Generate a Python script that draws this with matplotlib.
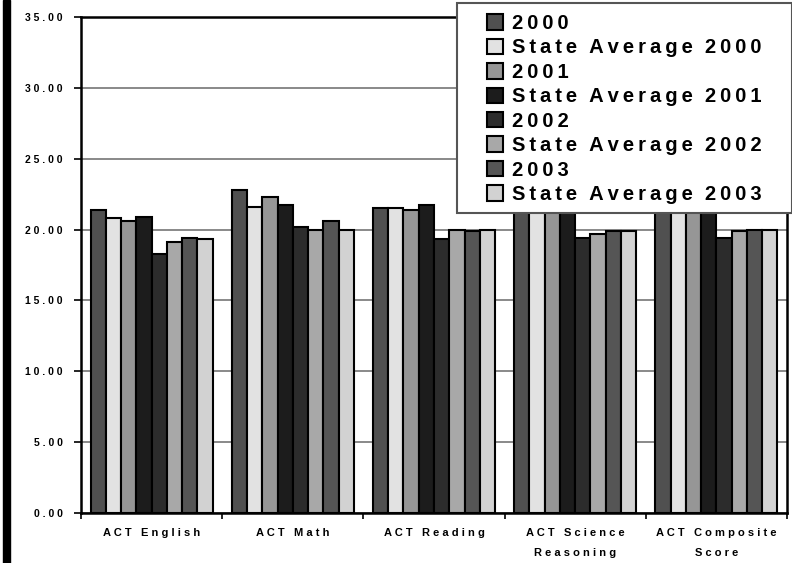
#!/usr/bin/env python3
"""ACT scores vs state average, grouped bars."""

import matplotlib

matplotlib.use("Agg")
import matplotlib.pyplot as plt
import numpy as np
from matplotlib.patches import Rectangle

categories = ["ACT English", "ACT Math", "ACT Reading", "ACT Science\nReasoning", "ACT Composite\nScore"]
series_names = [
    "2000", "State Average 2000",
    "2001", "State Average 2001",
    "2002", "State Average 2002",
    "2003", "State Average 2003",
]
# one list per series, values in category order
s2000 = [21.4, 22.8, 21.5, 21.6, 21.8]
sa2000 = [20.8, 21.6, 21.5, 21.3, 21.6]
s2001 = [20.6, 22.3, 21.4, 21.5, 21.7]
sa2001 = [20.9, 21.7, 21.7, 21.3, 21.7]
s2002 = [18.3, 20.2, 19.3, 19.4, 19.4]
sa2002 = [19.1, 20.0, 20.0, 19.7, 19.9]
s2003 = [19.4, 20.6, 19.9, 19.9, 20.0]
sa2003 = [19.3, 20.0, 20.0, 19.9, 20.0]
series_values = [s2000, sa2000, s2001, sa2001, s2002, sa2002, s2003, sa2003]
y_ticks = [0, 5, 10, 15, 20, 25, 30, 35]

colors = ["#505050", "#e2e2e2", "#969696", "#1c1c1c", "#2c2c2c", "#a8a8a8", "#555555", "#d2d2d2"]

FONT = ["Liberation Sans", "DejaVu Sans"]
plt.rcParams["font.family"] = FONT
plt.rcParams["font.weight"] = "bold"


def spaced(text, sep=" ", wordsep=3):
    lines = []
    for line in text.split("\n"):
        words = [sep.join(w) for w in line.split(" ")]
        lines.append((sep * wordsep).join(words))
    return "\n".join(lines)


fig = plt.figure(figsize=(7.92, 5.63), dpi=100)
ax = fig.add_axes([81 / 792, 1 - 513 / 563, 706 / 792, 496 / 563])

n = len(series_values)
x = np.arange(len(categories))
total = 0.865
w = total / n
handles = []
for i, (name, vals) in enumerate(zip(series_names, series_values)):
    b = ax.bar(x - total / 2 + w * (i + 0.5), vals, width=w, color=colors[i],
               edgecolor="black", linewidth=1.5, label=name, zorder=3)
    handles.append(b)

ax.set_xlim(-0.5, len(categories) - 0.5)
ax.set_ylim(0, 35)
ax.set_yticks(y_ticks)
ax.set_yticklabels([spaced(f"{v:.2f}") for v in y_ticks], fontsize=7.5, fontweight="bold")
ax.set_xticks(np.arange(len(categories) + 1) - 0.5)
ax.set_xticklabels([])
ax.set_xticks(x, minor=True)
ax.set_xticklabels([spaced(c) for c in categories], minor=True, fontsize=8,
                   fontweight="bold", linespacing=2.2)
ax.tick_params(axis="x", which="minor", length=0, pad=11)
ax.tick_params(axis="x", which="major", length=4, width=1.2, direction="out")
ax.tick_params(axis="y", length=5, width=1.2, direction="out", pad=8)

ax.grid(axis="y", color="#6a6a6a", linewidth=1.1, zorder=0)
for side in ["left", "bottom", "top", "right"]:
    ax.spines[side].set_linewidth(1.8)
    ax.spines[side].set_color("black")

# legend box drawn as its own rectangle so the padding matches
fig.patches.append(Rectangle((457 / 792, 1 - 213 / 563), 335 / 792, 210 / 563,
                             transform=fig.transFigure, facecolor="white",
                             edgecolor="#555555", linewidth=1.5, zorder=9))
leg = fig.legend(handles, [spaced(s, sep="\u2009") for s in series_names],
                 loc="upper left", bbox_to_anchor=(487 / 792, 1 - 14 / 563),
                 bbox_transform=fig.transFigure, frameon=False,
                 borderpad=0, borderaxespad=0, labelspacing=0.27,
                 handlelength=0.8, handleheight=0.8, handletextpad=0.45,
                 prop={"family": FONT, "weight": "bold", "size": 14.5})
leg.set_zorder(10)

# black strip down the left edge of the picture
fig.patches.append(Rectangle((3 / 792, 0), 7 / 792, 1, transform=fig.transFigure,
                             color="black", zorder=5))

fig.savefig("out.png", dpi=100)
